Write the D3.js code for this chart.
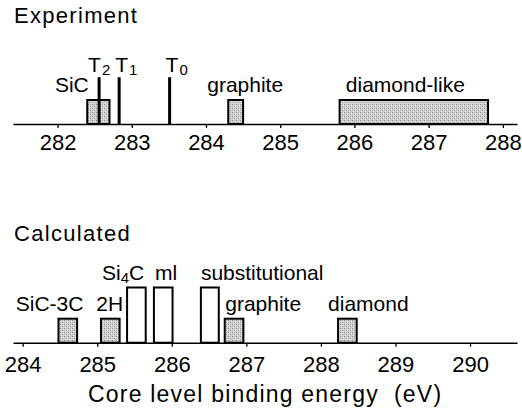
<!DOCTYPE html>
<html>
<head>
<meta charset="utf-8">
<script src="https://cdn.jsdelivr.net/npm/d3@7"></script>
<style>
  html, body { margin: 0; padding: 0; background: #fff; }
  svg { display: block; }
  text { font-family: "Liberation Sans", Arial, Helvetica, sans-serif; fill: #000; }
</style>
</head>
<body>
<svg id="chart" width="522" height="414"></svg>
<script>
// ---------- data ----------
const expTicks = [282, 283, 284, 285, 286, 287, 288];
const expBoxNames = ["SiC", "graphite", "diamond-like"];
const expBoxStart = [282.4, 284.3, 285.8];
const expBoxEnd   = [282.7, 284.5, 287.8];
const expBoxHeight = [1, 1, 1];

const expLineNames = ["T", "T", "T"];
const expLineSubs  = ["2", "1", "0"];
const expLinePos   = [282.56, 282.83, 283.51];
const expLineHeight = [1.95, 1.95, 1.95];

const calcTicks = [284, 285, 286, 287, 288, 289, 290];
const calcBoxNames  = ["SiC-3C", "2H", "Si4C", "ml", "substitutional", "graphite", "diamond"];
const calcBoxStart  = [284.48, 285.05, 285.40, 285.76, 286.39, 286.71, 288.23];
const calcBoxEnd    = [284.73, 285.30, 285.65, 286.01, 286.63, 286.96, 288.48];
const calcBoxHeight = [1, 1, 2.3, 2.3, 2.3, 1, 1];
const calcBoxShaded = [true, true, false, false, false, true, true];

// ---------- layout / style ----------
const svg = d3.select("#chart");
const FONT_LABEL = 21;

const defs = svg.append("defs");
const pat = defs.append("pattern").attr("id", "halftone")
  .attr("patternUnits", "userSpaceOnUse").attr("width", 4).attr("height", 4);
pat.append("rect").attr("width", 4).attr("height", 4).attr("fill", "#d2d2d2");
[[0,0,"#8e8e8e"],[2,2,"#9a9a9a"],[2,0,"#b4b4b4"],[0,2,"#b8b8b8"],[1,3,"#e6e6e6"],[3,1,"#e6e6e6"]]
  .forEach(([x, y, c]) => pat.append("rect").attr("x", x).attr("y", y)
    .attr("width", 1).attr("height", 1).attr("fill", c));

const xExp  = d3.scaleLinear().domain([281.4, 288.19]).range([13, 517]);
const xCalc = d3.scaleLinear().domain([283.87, 290.63]).range([13, 517]);
const hUnit = d3.scaleLinear().domain([0, 1]).range([0, 24]);

const yExpAxis = 124;
const yCalcAxis = 342.7;

function drawAxis(scale, ticks, y, pad) {
  const g = svg.append("g").attr("transform", `translate(0,${y})`)
    .call(d3.axisBottom(scale).tickValues(ticks).tickFormat(d3.format("d"))
      .tickSize(4).tickSizeOuter(0).tickPadding(pad));
  g.select(".domain").attr("stroke", "#000").attr("stroke-width", 1.6);
  g.selectAll(".tick line").attr("stroke", "#000").attr("stroke-width", 1.3);
  g.selectAll(".tick text").attr("font-size", 22)
    .attr("font-family", '"Liberation Sans", Arial, Helvetica, sans-serif').attr("fill", "#000");
  return g;
}

// titles
svg.append("text").attr("x", 14).attr("y", 23).attr("font-size", 22)
  .attr("letter-spacing", 1.3).text("Experiment");
svg.append("text").attr("x", 14).attr("y", 240.5).attr("font-size", 22)
  .attr("letter-spacing", 1.3).text("Calculated");
svg.append("text").attr("x", 88).attr("y", 401.5).attr("font-size", 23)
  .attr("letter-spacing", 1.2).attr("xml:space", "preserve")
  .text("Core level binding energy  (eV)");

// ---------- experiment panel ----------
const expBoxes = expBoxNames.map((n, i) => ({ name: n, s: expBoxStart[i], e: expBoxEnd[i], h: expBoxHeight[i] }));
svg.append("g").selectAll("rect").data(expBoxes).join("rect")
  .attr("x", d => xExp(d.s))
  .attr("y", d => yExpAxis - hUnit(d.h))
  .attr("width", d => xExp(d.e) - xExp(d.s))
  .attr("height", d => hUnit(d.h))
  .attr("fill", "url(#halftone)")
  .attr("stroke", "#000").attr("stroke-width", 2);

const expLines = expLineNames.map((n, i) => ({ name: n, sub: expLineSubs[i], x: expLinePos[i], h: expLineHeight[i] }));
svg.append("g").selectAll("line").data(expLines).join("line")
  .attr("x1", d => xExp(d.x)).attr("x2", d => xExp(d.x))
  .attr("y1", yExpAxis).attr("y2", d => yExpAxis - hUnit(d.h))
  .attr("stroke", "#000").attr("stroke-width", 3);

drawAxis(xExp, expTicks, yExpAxis, 6.4);

// box labels (experiment)
const expBoxLabelPlace = {
  "SiC":          { anchor: "end",    ref: "s",   dx: 1.5, y: 91.5 },
  "graphite":     { anchor: "middle", ref: "mid", dx: 9.5, y: 91.5 },
  "diamond-like": { anchor: "middle", ref: "mid", dx: -8.5, y: 91.5 }
};
function refX(scale, d, ref) {
  if (ref === "s") return scale(d.s);
  if (ref === "e") return scale(d.e);
  return (scale(d.s) + scale(d.e)) / 2;
}
svg.append("g").selectAll("text").data(expBoxes).join("text")
  .attr("x", d => refX(xExp, d, expBoxLabelPlace[d.name].ref) + expBoxLabelPlace[d.name].dx)
  .attr("y", d => expBoxLabelPlace[d.name].y)
  .attr("text-anchor", d => expBoxLabelPlace[d.name].anchor)
  .attr("font-size", FONT_LABEL)
  .text(d => d.name);

// line labels T2, T1, T0
const lineLabelDx = [-11, -4, -4];
const lineLabels = svg.append("g").selectAll("text").data(expLines).join("text")
  .attr("x", (d, i) => xExp(d.x) + lineLabelDx[i])
  .attr("y", 72)
  .attr("font-size", FONT_LABEL);
lineLabels.append("tspan").text(d => d.name);
lineLabels.append("tspan").attr("dx", 1).attr("dy", 3).attr("font-size", 15).text(d => d.sub);

// ---------- calculated panel ----------
const calcBoxes = calcBoxNames.map((n, i) => ({
  name: n, s: calcBoxStart[i], e: calcBoxEnd[i], h: calcBoxHeight[i], shaded: calcBoxShaded[i]
}));
svg.append("g").selectAll("rect").data(calcBoxes).join("rect")
  .attr("x", d => xCalc(d.s))
  .attr("y", d => yCalcAxis - hUnit(d.h))
  .attr("width", d => xCalc(d.e) - xCalc(d.s))
  .attr("height", d => hUnit(d.h))
  .attr("fill", d => d.shaded ? "url(#halftone)" : "#fff")
  .attr("stroke", "#000").attr("stroke-width", 2);

drawAxis(xCalc, calcTicks, yCalcAxis, 9.2);

const calcLabelPlace = {
  "SiC-3C":         { anchor: "end",    ref: "s",   dx: 25,   y: 310.5 },
  "2H":             { anchor: "end",    ref: "e",   dx: 3.5,  y: 310.5 },
  "Si4C":           { anchor: "end",    ref: "e",   dx: -1.5, y: 280 },
  "ml":             { anchor: "start",  ref: "s",   dx: 1,    y: 280 },
  "substitutional": { anchor: "start",  ref: "s",   dx: 0,    y: 280 },
  "graphite":       { anchor: "start",  ref: "s",   dx: 0.5,  y: 310.5 },
  "diamond":        { anchor: "start",  ref: "s",   dx: -10,  y: 310.5 }
};
const calcLabels = svg.append("g").selectAll("text").data(calcBoxes).join("text")
  .attr("x", d => refX(xCalc, d, calcLabelPlace[d.name].ref) + calcLabelPlace[d.name].dx)
  .attr("y", d => calcLabelPlace[d.name].y)
  .attr("text-anchor", d => calcLabelPlace[d.name].anchor)
  .attr("font-size", FONT_LABEL);
calcLabels.each(function(d) {
  const t = d3.select(this);
  const m = d.name.match(/^([A-Za-z]+)(\d)(.*)$/);
  if (m && d.name === "Si4C") {
    t.append("tspan").text(m[1]);
    t.append("tspan").attr("dy", 3).attr("font-size", 15).text(m[2]);
    t.append("tspan").attr("dy", -3).text(m[3]);
  } else {
    t.text(d.name);
  }
});
</script>
</body>
</html>
